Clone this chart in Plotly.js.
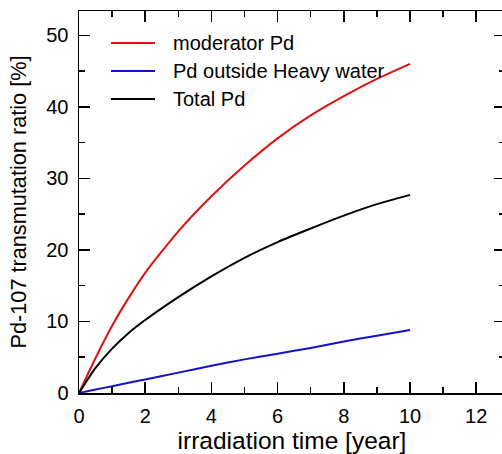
<!DOCTYPE html>
<html>
<head>
<meta charset="utf-8">
<script src="https://cdn.plot.ly/plotly-3.0.1.min.js"></script>
<style>
html,body{margin:0;padding:0;overflow:hidden;background:#fff;width:502px;height:454px;}
#chart{width:510px;height:454px;}
</style>
</head>
<body>
<div id="chart"></div>
<script>
// irradiation time [year]
const years = [0, 0.5, 1, 1.5, 2, 3, 4, 5, 6, 7, 8, 9, 10];
// transmutation ratio [%]
const moderatorPd = [0, 4.9, 9.4, 13.3, 16.8, 22.6, 27.5, 31.8, 35.6, 38.8, 41.5, 43.9, 46.0];
const outsidePd   = [0, 0.48, 0.95, 1.42, 1.9, 2.85, 3.8, 4.7, 5.5, 6.3, 7.2, 8.0, 8.8];
const totalPd     = [0, 3.5, 6.2, 8.4, 10.2, 13.4, 16.3, 18.9, 21.1, 23.0, 24.8, 26.4, 27.7];
const seriesNames = ["moderator Pd", "Pd outside Heavy water", "Total Pd"];
const seriesColors = ["rgb(222,18,18)", "rgb(18,18,205)", "#000000"];
const xTickVals = [0, 2, 4, 6, 8, 10, 12];
const yTickVals = [0, 10, 20, 30, 40, 50];

const font = "Liberation Sans, Arial, Helvetica, sans-serif";
const seriesValues = [moderatorPd, outsidePd, totalPd];

const traces = seriesValues.map((vals, i) => ({
  x: years, y: vals, name: seriesNames[i], mode: "lines", showlegend: false,
  line: {color: seriesColors[i], width: 2, shape: "spline", smoothing: 0.6}
}));

// custom legend (longer line samples, like the reference)
const legendRowsY = [0.9162, 0.8429, 0.7696];
const shapes = seriesNames.map((n, i) => ({
  type: "line", xref: "paper", yref: "paper",
  x0: 0.0751, x1: 0.1784, y0: legendRowsY[i], y1: legendRowsY[i],
  line: {color: seriesColors[i], width: 2}
}));
const annotations = seriesNames.map((n, i) => ({
  xref: "paper", yref: "paper", x: 0.2183, y: legendRowsY[i],
  xanchor: "left", yanchor: "middle", text: n, showarrow: false,
  borderpad: 0, font: {size: 20, family: font, color: "#000"}
}));

const layout = {
  width: 510, height: 454,
  margin: {l: 79, r: 5, t: 11, b: 61},
  paper_bgcolor: "#fff", plot_bgcolor: "#fff",
  font: {family: font, color: "#000", size: 20},
  showlegend: false,
  shapes: shapes,
  annotations: annotations,
  xaxis: {
    range: [0, 12.87], tickvals: xTickVals, ticktext: xTickVals.map(String),
    ticks: "inside", ticklen: 11, tickwidth: 1.5, tickcolor: "#000",
    minor: {dtick: 1, tick0: 0, ticks: "inside", ticklen: 6, tickwidth: 1.5, tickcolor: "#000"},
    showline: true, linecolor: "#000", linewidth: 1.5, mirror: "allticks",
    showgrid: false, zeroline: false,
    tickfont: {size: 20}, ticklabelstandoff: 4,
    title: {text: "irradiation time [year]", font: {size: 24.5}, standoff: 15}
  },
  yaxis: {
    range: [0, 53.4], tickvals: yTickVals, ticktext: yTickVals.map(String),
    ticks: "inside", ticklen: 11, tickwidth: 1.5, tickcolor: "#000",
    minor: {dtick: 5, tick0: 0, ticks: "inside", ticklen: 6, tickwidth: 1.5, tickcolor: "#000"},
    showline: true, linecolor: "#000", linewidth: 1.5, mirror: "allticks",
    showgrid: false, zeroline: false,
    tickfont: {size: 20}, ticklabelstandoff: 5,
    title: {text: "Pd-107 transmutation ratio [%]", font: {size: 21.7}, standoff: 13}
  }
};

Plotly.newPlot("chart", traces, layout, {displayModeBar: false, staticPlot: true});
</script>
</body>
</html>
